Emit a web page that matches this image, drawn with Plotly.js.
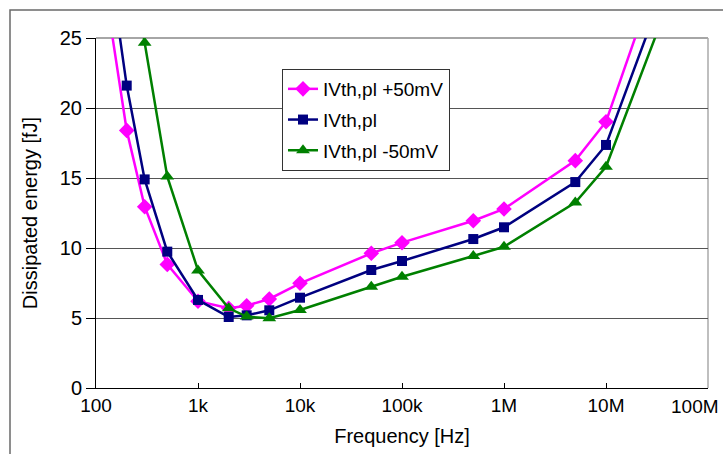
<!DOCTYPE html>
<html>
<head>
<meta charset="utf-8">
<script src="https://cdn.plot.ly/plotly-3.0.1.min.js"></script>
<style>html,body{margin:0;padding:0;background:#fff;}#chart{width:723px;height:454px;}</style>
</head>
<body>
<div id="chart"></div>
<script>
const freq = [100, 200, 300, 500, 1e3, 2e3, 3e3, 5e3, 1e4, 5e4, 1e5, 5e5, 1e6, 5e6, 1e7, 5e7];
const plus50 = [32.8, 18.4, 12.95, 8.83, 6.2, 5.7, 5.88, 6.36, 7.48, 9.62, 10.38, 11.95, 12.79, 16.24, 19.02, 33.7];
const nominal = [37.1, 21.6, 14.9, 9.74, 6.29, 5.07, 5.19, 5.55, 6.45, 8.43, 9.07, 10.64, 11.48, 14.71, 17.36, 31.1];
const minus50 = [55, 33, 24.66, 15.1, 8.4, 5.69, 5.1, 4.98, 5.57, 7.24, 7.95, 9.43, 10.09, 13.25, 15.8, 29.2];
const seriesNames = ['IVth,pl +50mV', 'IVth,pl', 'IVth,pl -50mV'];
const xTickVals = [100, 1e3, 1e4, 1e5, 1e6, 1e7, 1e8];
const xTickText = ['100', '1k', '10k', '100k', '1M', '10M', '100M'];
const yTickVals = [0, 5, 10, 15, 20, 25];

const FONT = 'Liberation Sans, Arial, Helvetica, sans-serif';
function tr(y, name, color, symbol, size, grp) {
  return {
    x: freq, y: y, name: name, type: 'scatter', mode: 'lines+markers',
    line: {color: color, width: 2.5},
    marker: {color: color, symbol: symbol, size: size},
    legendgroup: grp
  };
}
const data = [
  tr(plus50, seriesNames[0], '#FF00FF', 'diamond', 12, 'a'),
  tr(nominal, seriesNames[1], '#000080', 'square', 10, 'b'),
  tr(minus50, seriesNames[2], '#008000', 'triangle-up', 12, 'c')
];
const L = 96, R = 15, T = 38, B = 66;
const W = 723 - L - R, H = 454 - T - B;
const px = v => (v - L) / W;
const py = v => (454 - B - v) / H;
// last tick label is drawn as an annotation so it stays inside the picture
const shownTickText = xTickText.map((t, i) => i === xTickText.length - 1 ? '' : t);
const layout = {
  width: 723, height: 454,
  margin: {l: L, r: R, t: T, b: B, pad: 0},
  paper_bgcolor: '#fff', plot_bgcolor: '#fff',
  font: {family: FONT, size: 19, color: '#000'},
  showlegend: true,
  legend: {
    x: px(282), y: py(69), xanchor: 'left', yanchor: 'top',
    bgcolor: '#fff', bordercolor: '#333', borderwidth: 1,
    font: {family: FONT, size: 19, color: '#000'},
    traceorder: 'grouped', tracegroupgap: 3, itemwidth: 30
  },
  xaxis: {
    type: 'log', range: [2, 8], tickvals: xTickVals, ticktext: shownTickText,
    showgrid: false, zeroline: false,
    showline: true, linecolor: '#000', linewidth: 1,
    ticks: 'inside', ticklen: 5, tickcolor: '#000',
    tickfont: {family: FONT, size: 19},
    title: {text: 'Frequency [Hz]', font: {family: FONT, size: 20}, standoff: 14}
  },
  yaxis: {
    range: [0, 25], tickvals: yTickVals,
    showgrid: true, gridcolor: '#555', gridwidth: 1, zeroline: false,
    showline: true, linecolor: '#000', linewidth: 1,
    ticks: 'outside', ticklen: 9, tickcolor: '#000',
    tickfont: {family: FONT, size: 20},
    title: {text: 'Dissipated energy [fJ]', font: {family: FONT, size: 20}, standoff: 16}
  },
  annotations: [
    {text: xTickText[xTickText.length - 1], xref: 'x', yref: 'paper',
     x: Math.log10(xTickVals[xTickVals.length - 1]), y: 0,
     xanchor: 'right', yanchor: 'middle', xshift: 13, yshift: -18,
     showarrow: false, font: {family: FONT, size: 19, color: '#000'}}
  ],
  shapes: [
    {type: 'rect', xref: 'paper', yref: 'paper', x0: px(10), x1: px(740), y0: py(470), y1: py(10),
     line: {color: '#6a6a6a', width: 1.5}, layer: 'below'},
    {type: 'line', xref: 'paper', yref: 'paper', x0: 0, x1: 1, y0: 1, y1: 1,
     line: {color: '#888', width: 1.5}, layer: 'below'},
    {type: 'line', xref: 'paper', yref: 'paper', x0: 1, x1: 1, y0: 0, y1: 1,
     line: {color: '#aaa', width: 1.5}, layer: 'below'}
  ]
};
Plotly.newPlot('chart', data, layout, {displayModeBar: false, staticPlot: true});
</script>
</body>
</html>
